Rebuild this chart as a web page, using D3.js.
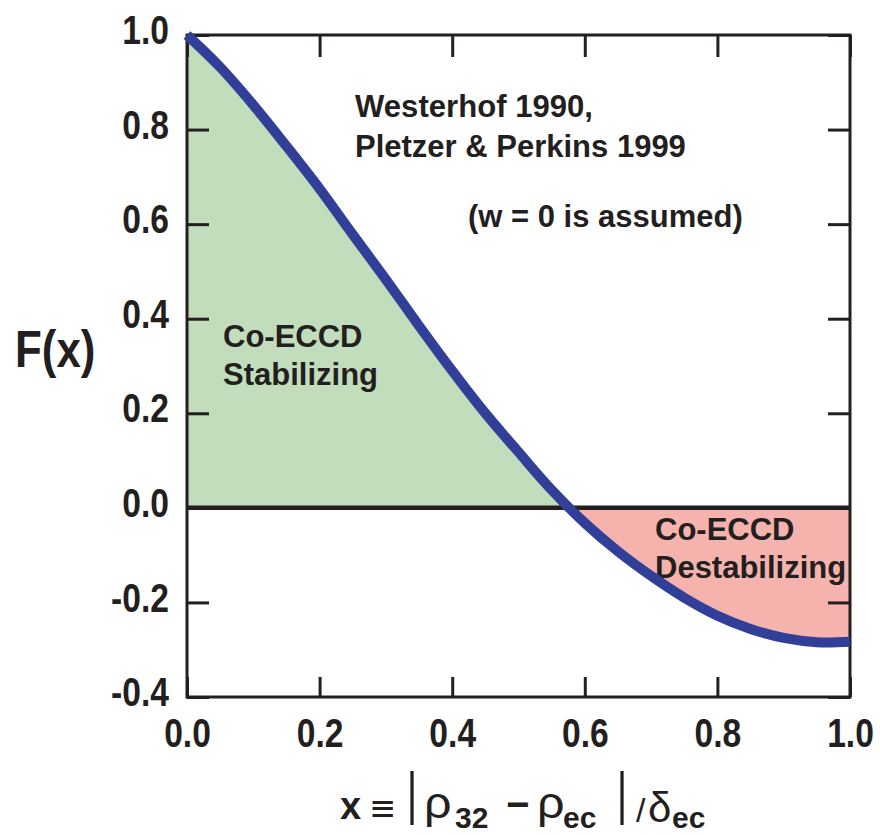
<!DOCTYPE html>
<html>
<head>
<meta charset="utf-8">
<script src="https://cdn.jsdelivr.net/npm/d3@7"></script>
<style>
  html, body { margin: 0; padding: 0; background: #fff; }
  svg { display: block; }
  text { font-family: "Liberation Sans", Arial, sans-serif; font-weight: bold; fill: #231f20; }
</style>
</head>
<body>
<svg id="chart" width="880" height="835"></svg>
<script>
// F(x) sampled along the normalised deposition offset x
const xValues = [0.00, 0.05, 0.10, 0.15, 0.20, 0.25, 0.30, 0.35, 0.40, 0.45, 0.50,
                 0.55, 0.60, 0.65, 0.70, 0.75, 0.80, 0.85, 0.90, 0.95, 1.00];
const fValues = [1.000, 0.932, 0.852, 0.765, 0.675, 0.578, 0.483, 0.385, 0.290, 0.200, 0.118,
                 0.038, -0.032, -0.092, -0.144, -0.190, -0.228, -0.256, -0.275, -0.284, -0.283];
const xTickValues = [0.0, 0.2, 0.4, 0.6, 0.8, 1.0];
const yTickValues = [-0.4, -0.2, 0.0, 0.2, 0.4, 0.6, 0.8, 1.0];

const svg = d3.select("#chart");
const plotL = 187, plotR = 850, plotT = 35, plotB = 697;
const narrow = 0.82;   // horizontal squeeze for the condensed numerals

const x = d3.scaleLinear().domain([0, 1]).range([plotL, plotR]);
const y = d3.scaleLinear().domain([-0.4, 1.0]).range([plotB, plotT]);

const pts = xValues.map((v, i) => ({ x: v, f: fValues[i] }));
const curve = d3.curveCatmullRom.alpha(0.5);

// clip regions above and below F = 0
const defs = svg.append("defs");
defs.append("clipPath").attr("id", "above")
  .append("rect").attr("x", plotL).attr("y", plotT).attr("width", plotR - plotL).attr("height", y(0) - plotT);
defs.append("clipPath").attr("id", "below")
  .append("rect").attr("x", plotL).attr("y", y(0)).attr("width", plotR - plotL).attr("height", plotB - y(0));

const area = d3.area()
  .x(d => x(d.x))
  .y0(y(0))
  .y1(d => y(d.f))
  .curve(curve);

svg.append("path").datum(pts).attr("d", area)
  .attr("fill", "#c2ddbb").attr("clip-path", "url(#above)");
svg.append("path").datum(pts).attr("d", area)
  .attr("fill", "#f6b3ae").attr("clip-path", "url(#below)");

// region labels
svg.append("text").attr("x", 223).attr("y", 347).attr("font-size", 31).text("Co-ECCD");
svg.append("text").attr("x", 223).attr("y", 385).attr("font-size", 31).text("Stabilizing");
svg.append("text").attr("x", 655).attr("y", 540).attr("font-size", 31).text("Co-ECCD");
svg.append("text").attr("x", 655).attr("y", 578).attr("font-size", 31).text("Destabilizing");

// zero line
svg.append("line")
  .attr("x1", plotL).attr("x2", plotR)
  .attr("y1", y(0)).attr("y2", y(0))
  .attr("stroke", "#231f20").attr("stroke-width", 4.5);

// axes with inward ticks on all four sides
const axisStyle = g => {
  g.select(".domain").remove();
  g.selectAll(".tick line").attr("stroke", "#231f20").attr("stroke-width", 3);
};
const fmt = d => d3.format(".1f")(d).replace("−", "-");

svg.append("g").attr("transform", `translate(${plotL},0)`)
  .call(d3.axisLeft(y).tickValues(yTickValues).tickSizeInner(-22).tickSizeOuter(0).tickPadding(18)
    .tickFormat(fmt))
  .call(axisStyle)
  .call(g => g.selectAll(".tick text")
    .attr("font-size", 41).attr("dy", "0.21em")
    .attr("x", -18 / narrow)
    .attr("transform", `scale(${narrow},1)`)
    .attr("fill", "#231f20"));

svg.append("g").attr("transform", `translate(${plotR},0)`)
  .call(d3.axisRight(y).tickValues(yTickValues).tickSizeInner(-22).tickSizeOuter(0).tickFormat(""))
  .call(axisStyle);

svg.append("g").attr("transform", `translate(0,${plotB})`)
  .call(d3.axisBottom(x).tickValues(xTickValues).tickSizeInner(-20).tickSizeOuter(0).tickPadding(21)
    .tickFormat(fmt))
  .call(axisStyle)
  .call(g => g.selectAll(".tick text")
    .attr("font-size", 41).attr("dy", "0.71em")
    .attr("transform", `scale(${narrow},1)`)
    .attr("fill", "#231f20"));

svg.append("g").attr("transform", `translate(0,${plotT})`)
  .call(d3.axisTop(x).tickValues(xTickValues).tickSizeInner(-22).tickSizeOuter(0).tickFormat(""))
  .call(axisStyle);

// frame
svg.append("rect")
  .attr("x", plotL).attr("y", plotT).attr("width", plotR - plotL).attr("height", plotB - plotT)
  .attr("fill", "none").attr("stroke", "#231f20").attr("stroke-width", 3);

// F(x) curve
const line = d3.line().x(d => x(d.x)).y(d => y(d.f)).curve(curve);
svg.append("path").datum(pts).attr("d", line)
  .attr("fill", "none").attr("stroke", "#323f98").attr("stroke-width", 10);

// annotations
svg.append("text").attr("x", 355).attr("y", 117).attr("font-size", 31)
  .attr("textLength", 238).attr("lengthAdjust", "spacingAndGlyphs").text("Westerhof 1990,");
svg.append("text").attr("x", 355).attr("y", 157).attr("font-size", 31).text("Pletzer & Perkins 1999");
svg.append("text").attr("x", 468).attr("y", 227).attr("font-size", 31).text("(w = 0 is assumed)");

// y-axis title
svg.append("text").attr("transform", "translate(15,367) scale(0.86,1)")
  .attr("font-size", 51).text("F(x)");

// x-axis title: x ≡ | ρ32 − ρec |/δec
const t = svg.append("g");
const piece = (px, py, size, str, opts = {}) => {
  const el = t.append("text").attr("transform", `translate(${px},${py})${opts.sx ? ` scale(${opts.sx},1)` : ""}`)
    .attr("font-size", size).text(str);
  if (opts.normal) el.style("font-weight", "normal");
  if (opts.family) el.style("font-family", opts.family);
  if (opts.anchor) el.attr("text-anchor", opts.anchor);
  return el;
};
piece(340, 819, 38, "x");
piece(369, 820, 36, "≡", { normal: true, family: "DejaVu Sans", sx: 0.9 });
piece(412, 813, 58, "|", { normal: true, anchor: "middle", sx: 0.7 });
piece(424, 818, 44, "ρ", { normal: true, sx: 1.1 });
piece(455, 828, 30, "32");
piece(506, 818, 40, "−");
piece(537, 818, 44, "ρ", { normal: true, sx: 1.1 });
piece(563, 828, 30, "ec");
piece(622, 813, 58, "|", { normal: true, anchor: "middle", sx: 0.7 });
piece(636, 822, 34, "/", { normal: true });
piece(648, 822, 42, "δ", { normal: true });
piece(672, 828, 30, "ec");
</script>
</body>
</html>
